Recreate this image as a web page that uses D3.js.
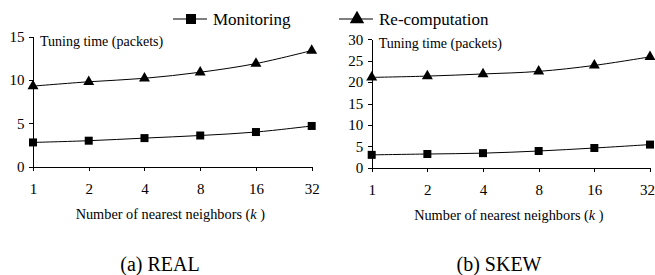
<!DOCTYPE html>
<html>
<head>
<meta charset="utf-8">
<script src="https://cdn.jsdelivr.net/npm/d3@7"></script>
<style>
  body { margin: 0; background: #fff; }
  .axis path, .axis line { stroke: #000; stroke-width: 1; shape-rendering: crispEdges; }
</style>
</head>
<body>
<div id="chart"></div>
<script>
const width = 655, height = 275;
const serif = '"Liberation Serif"';

const neighbors = ['1', '2', '4', '8', '16', '32'];
const realMonitoring = [2.8, 3.0, 3.3, 3.6, 4.0, 4.7];
const realRecompute = [9.3, 9.8, 10.2, 10.9, 11.9, 13.4];
const skewMonitoring = [3.0, 3.2, 3.4, 3.9, 4.6, 5.4];
const skewRecompute = [21.1, 21.4, 21.9, 22.5, 23.9, 25.9];
const realTicks = [0, 5, 10, 15];
const skewTicks = [0, 5, 10, 15, 20, 25, 30];

const svg = d3.select('#chart')
    .append('svg')
    .attr('width', width)
    .attr('height', height);

const square = d3.symbol().type(d3.symbolSquare).size(64);
const triangle = d3.symbol().type(d3.symbolTriangle).size(52);

function drawPanel(p) {
    const x = d3.scalePoint().domain(neighbors).range([p.left, p.right]);
    const y = d3.scaleLinear().domain([0, p.max]).range([p.bottom, p.top]);

    const xAxis = svg.append('g')
        .attr('class', 'axis')
        .attr('transform', `translate(0,${p.bottom})`)
        .call(d3.axisBottom(x).tickSizeInner(4).tickSizeOuter(0).tickPadding(13));

    const yAxis = svg.append('g')
        .attr('class', 'axis')
        .attr('transform', `translate(${p.left},0)`)
        .call(d3.axisLeft(y).tickValues(p.ticks).tickSizeInner(4).tickSizeOuter(0).tickPadding(4.5));

    [xAxis, yAxis].forEach(a => {
        a.attr('font-family', null).attr('font-size', null);
        a.selectAll('text').style('font-family', serif).style('font-size', '15px');
        a.select('.domain').attr('fill', 'none');
    });

    // keep the last label inside the window
    if (p.right > width - 10) {
        xAxis.selectAll('.tick text').filter(d => d === '32').attr('x', -3);
    }

    const line = d3.line()
        .x((d, i) => x(neighbors[i]))
        .y(d => y(d))
        .curve(d3.curveCatmullRom.alpha(0.5));

    [[p.mon, square], [p.rec, triangle]].forEach(([vals, sym]) => {
        svg.append('path')
            .attr('d', line(vals))
            .attr('fill', 'none')
            .attr('stroke', '#000')
            .attr('stroke-width', 1);
        svg.append('g').selectAll('path')
            .data(vals)
            .enter().append('path')
            .attr('d', sym)
            .attr('transform', (d, i) => `translate(${x(neighbors[i])},${y(d)})`)
            .attr('fill', '#000');
    });

    svg.append('text')
        .attr('x', p.left + 7)
        .attr('y', p.top + 9)
        .style('font-family', serif)
        .style('font-size', '14px')
        .text('Tuning time (packets)');

    const xt = svg.append('text')
        .attr('x', (p.left + p.right) / 2 - 2)
        .attr('y', p.bottom + 52)
        .attr('text-anchor', 'middle')
        .style('font-family', serif)
        .style('font-size', '14.3px');
    xt.append('tspan').text('Number of nearest neighbors (');
    xt.append('tspan').style('font-style', 'italic').text('k');
    xt.append('tspan').text(' )');

    svg.append('text')
        .attr('x', p.caption)
        .attr('y', 271)
        .attr('text-anchor', 'middle')
        .style('font-family', serif)
        .style('font-size', '20px')
        .text(p.title);
}

drawPanel({left: 33, right: 311.7, top: 36.7, bottom: 166.7, max: 15, ticks: realTicks,
    mon: realMonitoring, rec: realRecompute, title: '(a) REAL', caption: 160});
drawPanel({left: 371.7, right: 650, top: 39.3, bottom: 167.7, max: 30, ticks: skewTicks,
    mon: skewMonitoring, rec: skewRecompute, title: '(b) SKEW', caption: 499});

// legend
function legendItem(x0, sym, label) {
    svg.append('line')
        .attr('x1', x0).attr('x2', x0 + 34)
        .attr('y1', 19).attr('y2', 19)
        .attr('stroke', '#000').attr('stroke-width', 1.2);
    svg.append('path')
        .attr('d', sym)
        .attr('transform', `translate(${x0 + 18},19)`)
        .attr('fill', '#000');
    svg.append('text')
        .attr('x', x0 + 40)
        .attr('y', 25)
        .style('font-family', serif)
        .style('font-size', '17px')
        .text(label);
}
legendItem(173, d3.symbol().type(d3.symbolSquare).size(100), 'Monitoring');
legendItem(339, d3.symbol().type(d3.symbolTriangle).size(90), 'Re-computation');
</script>
</body>
</html>
